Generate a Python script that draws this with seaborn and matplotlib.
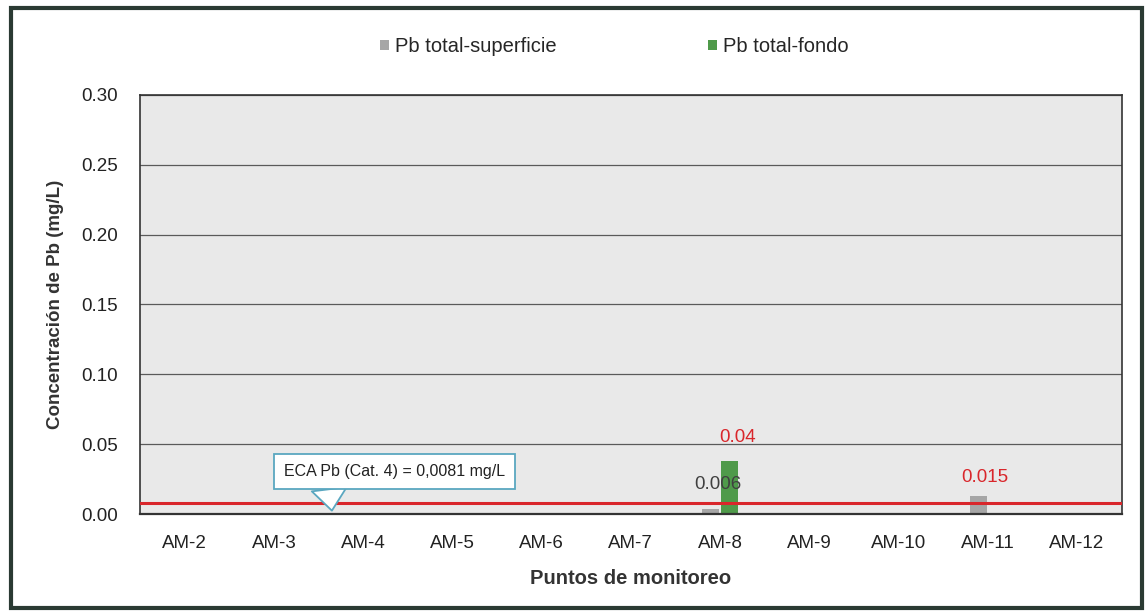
import matplotlib
matplotlib.use("Agg")
import matplotlib.pyplot as plt
from matplotlib.patches import Rectangle, Patch
import seaborn as sns
import pandas as pd

categories = ["AM-2", "AM-3", "AM-4", "AM-5", "AM-6", "AM-7", "AM-8", "AM-9", "AM-10", "AM-11", "AM-12"]
superficie = [0, 0, 0, 0, 0, 0, 0.004, 0, 0, 0.013, 0]
fondo = [0, 0, 0, 0, 0, 0, 0.038, 0, 0, 0, 0]
series_names = ["Pb total-superficie", "Pb total-fondo"]
eca_value = 0.0081
eca_label = "ECA Pb (Cat. 4) = 0,0081 mg/L"
y_ticks = [0.00, 0.05, 0.10, 0.15, 0.20, 0.25, 0.30]
# (category, x offset, label text, colour, label height)
labels = [("AM-8", -0.02, "0.006", "#404040", 0.021),
          ("AM-8", 0.20, "0.04", "#d9262b", 0.055),
          ("AM-11", -0.03, "0.015", "#d9262b", 0.0265)]

df = pd.DataFrame({
    "Punto": categories * 2,
    "Serie": [series_names[0]] * len(categories) + [series_names[1]] * len(categories),
    "Valor": superficie + fondo,
})

sns.set_theme(style="white")
plt.rcParams["font.family"] = ["Liberation Sans", "DejaVu Sans"]

fig = plt.figure(figsize=(11.48, 6.15), dpi=100)
ax = fig.add_axes([0.122, 0.164, 0.855, 0.682])
ax.set_facecolor("#e9e9e9")

palette = {series_names[0]: "#a6a6a6", series_names[1]: "#4f9a4a"}
sns.barplot(data=df, x="Punto", y="Valor", hue="Serie", order=categories,
            hue_order=series_names, palette=palette, width=0.42, gap=0.1,
            ax=ax, legend=False, edgecolor="none", saturation=1)

ax.set_ylim(0, 0.30)
ax.set_xlim(-0.5, len(categories) - 0.5)
ax.set_yticks(y_ticks)
ax.set_yticklabels([f"{v:.2f}" for v in y_ticks], fontsize=13.5, color="#222222")
ax.tick_params(axis="x", labelsize=13.5, colors="#222222", pad=9)
ax.tick_params(axis="y", pad=10)
ax.yaxis.grid(True, color="#5a5a5a", linewidth=0.9)
ax.set_axisbelow(True)
for s in ax.spines.values():
    s.set_color("#333333")
    s.set_linewidth(1.2)
ax.spines["bottom"].set_linewidth(1.6)

ax.set_xlabel("Puntos de monitoreo", fontsize=14.5, fontweight="bold", color="#333333", labelpad=12)
ax.set_ylabel("Concentración de Pb (mg/L)", fontsize=13.5, fontweight="bold", color="#333333", labelpad=12)

# ECA line
ax.axhline(eca_value, color="#d9262b", linewidth=2.2, zorder=3)

# data labels
for cat, off, txt, col, ypos in labels:
    xi = categories.index(cat)
    ax.text(xi + off, ypos, txt, ha="center", va="center", fontsize=13.5, color=col, zorder=5)

# callout
ax.annotate(eca_label, xy=(1.65, 0.0025), xytext=(2.35, 0.0305),
            ha="center", va="center", fontsize=11.5, color="#222222",
            bbox=dict(boxstyle="square,pad=0.6", fc="white", ec="#5aa7c0", lw=1.3),
            arrowprops=dict(arrowstyle="wedge,tail_width=2.2,shrink_factor=0.5",
                            fc="white", ec="#5aa7c0", lw=1.3, relpos=(0.2, 0.0),
                            shrinkA=0, shrinkB=0),
            zorder=6)

# legend
handles = [Patch(facecolor=palette[n], edgecolor="none") for n in series_names]
fig.legend(handles, series_names, loc="center", bbox_to_anchor=(0.535, 0.924), ncol=2,
           frameon=False, fontsize=14.5, handlelength=0.45, handleheight=0.45,
           handletextpad=0.3, columnspacing=7.5)

# outer frame
fig.patches.append(Rectangle((0.01, 0.012), 0.985, 0.975, transform=fig.transFigure,
                             fill=False, ec="#2a3a33", lw=3))

fig.savefig("out.png", dpi=100)
